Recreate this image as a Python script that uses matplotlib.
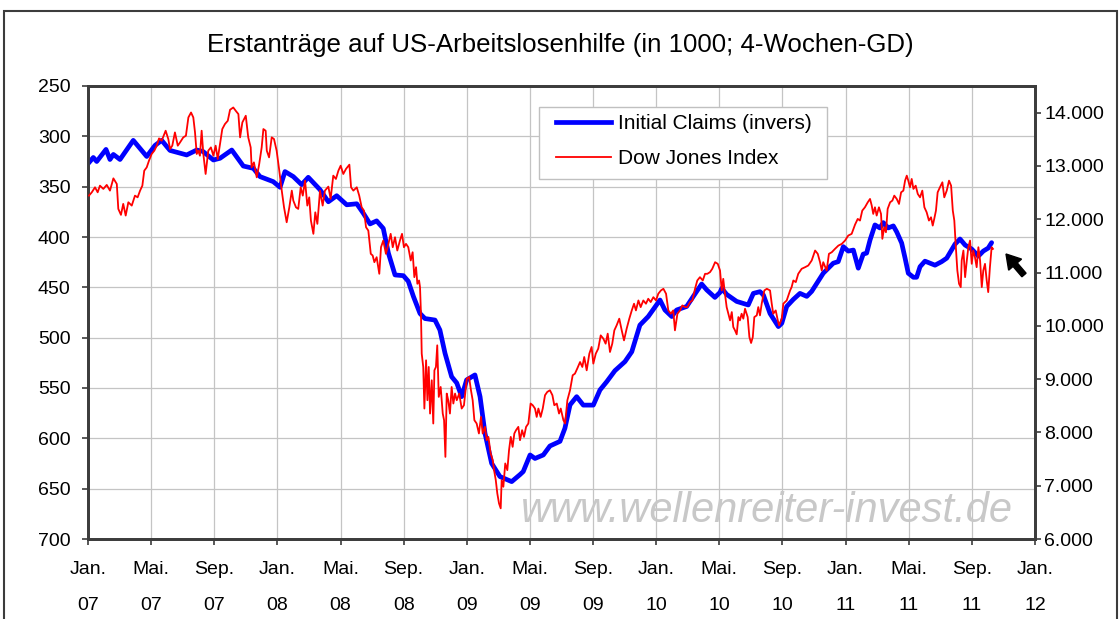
import matplotlib
matplotlib.use("Agg")
import matplotlib.pyplot as plt
from matplotlib.patches import Rectangle, FancyArrow
from matplotlib.lines import Line2D
from matplotlib.transforms import IdentityTransform

# ---------------- data (decimal years) ----------------
claims_t = [2007.002, 2007.028, 2007.046, 2007.095, 2007.116, 2007.134, 2007.169, 2007.239,
            2007.310, 2007.354, 2007.389, 2007.433, 2007.521, 2007.574, 2007.607, 2007.662,
            2007.697, 2007.759, 2007.820, 2007.873, 2007.908, 2007.978, 2008.014, 2008.040,
            2008.084, 2008.128, 2008.163, 2008.225, 2008.269, 2008.313, 2008.366, 2008.419,
            2008.454, 2008.489, 2008.524, 2008.559, 2008.586, 2008.621, 2008.665, 2008.691,
            2008.718, 2008.753, 2008.779, 2008.832, 2008.858, 2008.885, 2008.920, 2008.947,
            2008.973, 2008.999, 2009.043, 2009.070, 2009.096, 2009.131, 2009.175, 2009.237,
            2009.281, 2009.298, 2009.334, 2009.360, 2009.404, 2009.439, 2009.492, 2009.518,
            2009.545, 2009.580, 2009.615, 2009.668, 2009.703, 2009.739, 2009.782, 2009.835,
            2009.871, 2009.914, 2009.958, 2010.020, 2010.046, 2010.082, 2010.108, 2010.161,
            2010.196, 2010.240, 2010.267, 2010.310, 2010.337, 2010.346, 2010.372, 2010.425,
            2010.460, 2010.486, 2010.513, 2010.548, 2010.566, 2010.601, 2010.645, 2010.663,
            2010.689, 2010.724, 2010.759, 2010.795, 2010.821, 2010.838, 2010.882, 2010.935,
            2010.961, 2010.988, 2011.014, 2011.041, 2011.067, 2011.093, 2011.111, 2011.129,
            2011.155, 2011.181, 2011.199, 2011.225, 2011.252, 2011.270, 2011.296, 2011.314,
            2011.331, 2011.358, 2011.375, 2011.393, 2011.419, 2011.472, 2011.507, 2011.534,
            2011.578, 2011.604, 2011.631, 2011.666, 2011.701, 2011.727, 2011.753, 2011.771]
claims = [326.8, 321, 325, 313, 323, 318, 323, 304,
          320, 309, 304, 314, 318.5, 313.6, 315, 323.5,
          321.8, 313.6, 329.5, 331.8, 340, 345, 350.6, 335,
          340, 348, 340.7, 353, 365, 359, 368, 367,
          376.5, 387, 384, 391.5, 416, 437.7, 438.4, 444,
          459, 476, 481, 482.5, 492.4, 515.5, 538.8, 545,
          558.6, 542, 537, 558.6, 595, 624.8, 638, 643,
          636, 633, 616.5, 620, 616.5, 607.6, 603, 590,
          566.8, 558.6, 567, 567, 552, 543.7, 532.8, 523.8,
          514, 487.5, 479, 462.6, 472.5, 479, 472.5, 469,
          459, 446.7, 452.6, 460, 455, 451, 457, 464,
          466, 467.5, 456, 454.3, 457.6, 476, 489, 485.7,
          469, 462, 456, 459, 454, 449, 436, 426,
          424.5, 409.6, 414, 413, 431, 417, 416, 403,
          388, 391, 385.7, 391, 389, 395, 406, 421,
          436, 440, 440, 429.5, 424, 428, 424.5, 421,
          407, 402, 408, 412, 419, 414, 411, 405.6]

dow_t = [2007.005, 2007.020, 2007.037, 2007.051, 2007.063, 2007.081, 2007.099, 2007.116,
         2007.134, 2007.152, 2007.160, 2007.174, 2007.186, 2007.199, 2007.213, 2007.231,
         2007.248, 2007.262, 2007.275, 2007.287, 2007.297, 2007.310, 2007.322, 2007.336,
         2007.350, 2007.363, 2007.375, 2007.389, 2007.410, 2007.424, 2007.433, 2007.445,
         2007.459, 2007.474, 2007.486, 2007.503, 2007.517, 2007.530, 2007.544, 2007.556,
         2007.565, 2007.574, 2007.582, 2007.591, 2007.600, 2007.609, 2007.621, 2007.635,
         2007.649, 2007.662, 2007.674, 2007.685, 2007.697, 2007.709, 2007.723, 2007.738,
         2007.750, 2007.767, 2007.780, 2007.794, 2007.803, 2007.815, 2007.833, 2007.846,
         2007.859, 2007.864, 2007.876, 2007.891, 2007.904, 2007.917, 2007.926, 2007.938,
         2007.944, 2007.956, 2007.970, 2007.982, 2007.996, 2008.010, 2008.023, 2008.035,
         2008.049, 2008.063, 2008.076, 2008.084, 2008.098, 2008.110, 2008.123, 2008.134,
         2008.146, 2008.158, 2008.168, 2008.177, 2008.190, 2008.200, 2008.211, 2008.225,
         2008.239, 2008.251, 2008.269, 2008.281, 2008.295, 2008.309, 2008.322, 2008.334,
         2008.348, 2008.362, 2008.380, 2008.389, 2008.401, 2008.419, 2008.432, 2008.445,
         2008.457, 2008.468, 2008.480, 2008.493, 2008.503, 2008.512, 2008.524, 2008.538,
         2008.547, 2008.559, 2008.573, 2008.586, 2008.598, 2008.609, 2008.621, 2008.633,
         2008.647, 2008.658, 2008.668, 2008.679, 2008.691, 2008.704, 2008.714, 2008.723,
         2008.732, 2008.739, 2008.748, 2008.753, 2008.758, 2008.762, 2008.770, 2008.776,
         2008.785, 2008.792, 2008.799, 2008.806, 2008.815, 2008.823, 2008.829, 2008.837,
         2008.844, 2008.852, 2008.862, 2008.873, 2008.880, 2008.887, 2008.894, 2008.902,
         2008.911, 2008.920, 2008.929, 2008.938, 2008.947, 2008.960, 2008.973, 2008.985,
         2009.000, 2009.012, 2009.022, 2009.031, 2009.040, 2009.052, 2009.064, 2009.075,
         2009.084, 2009.096, 2009.105, 2009.114, 2009.126, 2009.137, 2009.144, 2009.153,
         2009.161, 2009.170, 2009.179, 2009.184, 2009.193, 2009.203, 2009.214, 2009.223,
         2009.232, 2009.242, 2009.251, 2009.260, 2009.272, 2009.281, 2009.292, 2009.302,
         2009.313, 2009.325, 2009.337, 2009.348, 2009.360, 2009.369, 2009.378, 2009.390,
         2009.401, 2009.413, 2009.425, 2009.439, 2009.452, 2009.462, 2009.475, 2009.487,
         2009.496, 2009.510, 2009.519, 2009.531, 2009.545, 2009.559, 2009.571, 2009.583,
         2009.598, 2009.610, 2009.620, 2009.633, 2009.647, 2009.659, 2009.668, 2009.681,
         2009.694, 2009.707, 2009.721, 2009.733, 2009.744, 2009.756, 2009.768, 2009.779,
         2009.791, 2009.805, 2009.818, 2009.830, 2009.844, 2009.858, 2009.871, 2009.883,
         2009.893, 2009.906, 2009.918, 2009.932, 2009.946, 2009.958, 2009.971, 2009.985,
         2009.999, 2010.011, 2010.025, 2010.038, 2010.052, 2010.064, 2010.077, 2010.090,
         2010.099, 2010.112, 2010.126, 2010.138, 2010.152, 2010.164, 2010.179, 2010.191,
         2010.205, 2010.217, 2010.231, 2010.246, 2010.258, 2010.270, 2010.284, 2010.296,
         2010.311, 2010.325, 2010.337, 2010.346, 2010.354, 2010.363, 2010.372, 2010.381,
         2010.390, 2010.399, 2010.407, 2010.416, 2010.425, 2010.434, 2010.442, 2010.451,
         2010.460, 2010.469, 2010.483, 2010.492, 2010.501, 2010.510, 2010.518, 2010.531,
         2010.539, 2010.548, 2010.557, 2010.571, 2010.584, 2010.601, 2010.610, 2010.618,
         2010.631, 2010.642, 2010.649, 2010.663, 2010.671, 2010.689, 2010.707, 2010.715,
         2010.724, 2010.737, 2010.750, 2010.768, 2010.786, 2010.803, 2010.821, 2010.839,
         2010.853, 2010.865, 2010.874, 2010.882, 2010.900, 2010.912, 2010.927, 2010.944,
         2010.962, 2010.980, 2010.997, 2011.014, 2011.032, 2011.050, 2011.064, 2011.076,
         2011.088, 2011.102, 2011.117, 2011.129, 2011.138, 2011.146, 2011.155, 2011.164,
         2011.176, 2011.187, 2011.194, 2011.204, 2011.213, 2011.222, 2011.235, 2011.247,
         2011.257, 2011.270, 2011.282, 2011.293, 2011.305, 2011.314, 2011.323, 2011.331,
         2011.340, 2011.349, 2011.358, 2011.370, 2011.381, 2011.393, 2011.405, 2011.416,
         2011.428, 2011.440, 2011.451, 2011.460, 2011.468, 2011.477, 2011.486, 2011.498,
         2011.511, 2011.521, 2011.534, 2011.546, 2011.557, 2011.566, 2011.574, 2011.581,
         2011.590, 2011.599, 2011.608, 2011.613, 2011.622, 2011.631, 2011.640, 2011.648,
         2011.657, 2011.666, 2011.674, 2011.683, 2011.692, 2011.701, 2011.710, 2011.719,
         2011.727, 2011.736, 2011.745, 2011.753, 2011.762, 2011.771, 2011.778]
dow = [12443, 12505, 12599, 12505, 12630, 12569, 12644, 12537,
       12767, 12662, 12194, 12082, 12288, 12069, 12318, 12256,
       12443, 12411, 12537, 12630, 12911, 12973, 13099, 13224,
       13286, 13380, 13517, 13473, 13661, 13505, 13318, 13380,
       13629, 13380, 13442, 13536, 13567, 13910, 14003, 13910,
       13629, 13224, 13286, 13192, 13661, 13224, 12849, 13286,
       13348, 13192, 13380, 13130, 13411, 13692, 13786, 13848,
       14054, 14097, 14035, 13973, 13536, 13817, 13942, 13536,
       13348, 12973, 13067, 12786, 13037, 13348, 13692, 13661,
       13286, 13161, 13536, 13505, 13286, 12911, 12537, 12224,
       11943, 12224, 12537, 12350, 12224, 12194, 12599, 12443,
       12724, 12256, 12411, 11975, 11726, 12130, 11913, 12537,
       12256, 12537, 12612, 12381, 12818, 12756, 12911, 13005,
       12849, 12943, 13024, 12599, 12537, 12599, 12443, 12224,
       12162, 11850, 11787, 11351, 11320, 11194, 11288, 10976,
       11475, 11600, 11351, 11538, 11726, 11475, 11662, 11413,
       11600, 11726, 11475, 11538, 11475, 11226, 11381, 10913,
       11100, 10789, 10851, 10726, 10227, 9478, 9228, 8448,
       9353, 8604, 9228, 8354, 8978, 8167, 9165, 9228,
       9634, 8666, 8853, 8354, 8229, 7541, 8729, 8604,
       8354, 8853, 8542, 8729, 8604, 8729, 8448, 8510,
       9010, 9040, 8791, 8604, 8229, 8167, 7980, 8291,
       7980, 8104, 7854, 7916, 7605, 7480, 7292, 7105,
       6856, 6669, 6575, 7105, 6980, 7418, 7292, 7667,
       7916, 7729, 7980, 8042, 8104, 7854, 8042, 7916,
       8104, 8167, 8542, 8510, 8448, 8291, 8448, 8291,
       8448, 8698, 8760, 8791, 8698, 8510, 8542, 8354,
       8448, 8229, 8167, 8604, 8791, 9072, 9103, 9197,
       9321, 9228, 9415, 9165, 9478, 9603, 9291, 9478,
       9572, 9821, 9759, 9665, 9853, 9509, 9665, 9915,
       10008, 10134, 9915, 9727, 9946, 10134, 10289, 10415,
       10289, 10476, 10351, 10476, 10415, 10508, 10446, 10538,
       10476, 10602, 10664, 10695, 10602, 10289, 10227, 10289,
       9915, 10227, 10289, 10383, 10351, 10351, 10446, 10476,
       10695, 10851, 10913, 10851, 10976, 10976, 11007, 11070,
       11194, 11163, 11038, 10664, 10882, 10602, 10351, 10227,
       10102, 10258, 9977, 9915, 9840, 10164, 10102, 10227,
       10134, 10320, 10164, 9790, 9678, 9790, 10164, 10196,
       10351, 10196, 10415, 10664, 10695, 10664, 10415, 10227,
       10289, 10102, 10008, 10134, 10415, 10476, 10664, 10726,
       10851, 10820, 10976, 11070, 11100, 11132, 11226, 11413,
       11351, 11194, 11038, 11194, 11038, 11351, 11381, 11444,
       11506, 11538, 11600, 11694, 11726, 11900, 12006, 11975,
       12162, 12224, 12318, 12381, 12256, 12100, 12224, 12069,
       12224, 12100, 11632, 11850, 11756, 12194, 12318, 12350,
       12443, 12381, 12287, 12505, 12537, 12724, 12818, 12724,
       12599, 12756, 12569, 12630, 12475, 12411, 12537, 12224,
       12130, 11975, 12037, 11881, 12006, 12162, 12505, 12599,
       12693, 12411, 12537, 12724, 12630, 12162, 11975, 11538,
       11038, 10789, 10726, 11226, 11413, 10913, 11226, 11475,
       11600, 11163, 11413, 11288, 11100, 11475, 11226, 10726,
       11038, 11163, 10851, 10632, 11100, 11475, 11444]

claims_ticks = [250, 300, 350, 400, 450, 500, 550, 600, 650, 700]
dow_ticks = [6000, 7000, 8000, 9000, 10000, 11000, 12000, 13000, 14000]
tick_years = [2007, 2007, 2007, 2008, 2008, 2008, 2009, 2009, 2009,
              2010, 2010, 2010, 2011, 2011, 2011, 2012]
tick_months = [1, 5, 9, 1, 5, 9, 1, 5, 9, 1, 5, 9, 1, 5, 9, 1]
month_names = {1: "Jan.", 5: "Mai.", 9: "Sep."}

title = "Erstanträge auf US-Arbeitslosenhilfe (in 1000; 4-Wochen-GD)"
label_claims = "Initial Claims (invers)"
label_dow = "Dow Jones Index"
watermark = "www.wellenreiter-invest.de"

# ---------------- styling ----------------
FONT = ["Liberation Sans", "DejaVu Sans"]
plt.rcParams["font.family"] = FONT
W, H = 1120, 619
DARK = "#3c3c3c"
GRID = "#c4c4c4"
TICK_FS = 14

fig = plt.figure(figsize=(W / 100, H / 100), dpi=100)
fig.patch.set_facecolor("white")

L, R, T, B = 88, 1035, 86, 539
ax = fig.add_axes([L / W, (H - B) / H, (R - L) / W, (B - T) / H])
ax2 = ax.twinx()

ax.plot(claims_t, claims, color="#0000ff", lw=3.4, solid_joinstyle="round",
        solid_capstyle="round", zorder=3)
ax2.plot(dow_t, dow, color="#ff0000", lw=1.3, zorder=3)

ax.set_xlim(2007.0, 2012.0)
ax.set_ylim(700, 250)
ax2.set_ylim(6000, 14500)

xt = [y + (m - 1) / 12 for y, m in zip(tick_years, tick_months)]
ax.set_xticks(xt)
ax.set_xticklabels([f"{month_names[m]}\n{y % 100:02d}" for y, m in zip(tick_years, tick_months)])
for lab in ax.get_xticklabels():
    lab.set_linespacing(2.45)
ax.set_yticks(claims_ticks)
ax.set_yticklabels([str(v) for v in claims_ticks])
ax2.set_yticks(dow_ticks)
ax2.set_yticklabels([f"{v:,}".replace(",", ".") for v in dow_ticks])

ax.grid(True, color=GRID, lw=0.9)
ax.set_axisbelow(True)

for a in (ax, ax2):
    for s in a.spines.values():
        s.set_color(DARK)
        s.set_linewidth(2.0)
ax.tick_params(axis="x", direction="out", length=4, width=1.2, color=DARK,
               labelsize=TICK_FS, pad=12, labelcolor="black")
ax.tick_params(axis="y", direction="out", length=4.5, width=1.2, color=DARK,
               labelsize=TICK_FS, pad=8, labelcolor="black")
ax2.tick_params(axis="y", direction="out", length=4.5, width=1.2, color=DARK,
                labelsize=TICK_FS, pad=2, labelcolor="black")

# legend: frame drawn separately (inside ax2, below the legend), entries placed inside
ax2.add_patch(Rectangle((539, H - 179), 288, 72, facecolor="white", edgecolor="#c0c0c0",
                        lw=1.0, transform=IdentityTransform(), clip_on=False, zorder=8))
handles = [Line2D([], [], color="#0000ff", lw=3.4), Line2D([], [], color="#ff0000", lw=1.3)]
leg = ax2.legend(handles, [label_claims, label_dow], loc="upper left",
                 bbox_to_anchor=(551 / W, 1 - 109 / H), bbox_transform=fig.transFigure,
                 borderaxespad=0, fontsize=15, frameon=False,
                 handlelength=2.65, handletextpad=0.3, labelspacing=0.75, borderpad=0.25)
leg.set_zorder(10)

# title
fig.text(560 / W, 1 - 52 / H, title, ha="center", va="baseline", fontsize=18.6, color="black")

# watermark
fig.text(767 / W, 1 - 511 / H, watermark, ha="center", va="center", fontsize=30,
         fontstyle="italic", color="#c8c8c8", zorder=1)

# arrow
fig.patches.append(FancyArrow(1024, H - 275, -18, 21, width=5.5, head_width=17, head_length=14,
                              length_includes_head=True, color="black",
                              transform=IdentityTransform(), figure=fig))

# outer border
fig.patches.append(Rectangle((4, -10), 1113, H - 11 + 10, fill=False, edgecolor=DARK, lw=1.5,
                             transform=IdentityTransform(), figure=fig))

fig.savefig("out.png", dpi=100)
